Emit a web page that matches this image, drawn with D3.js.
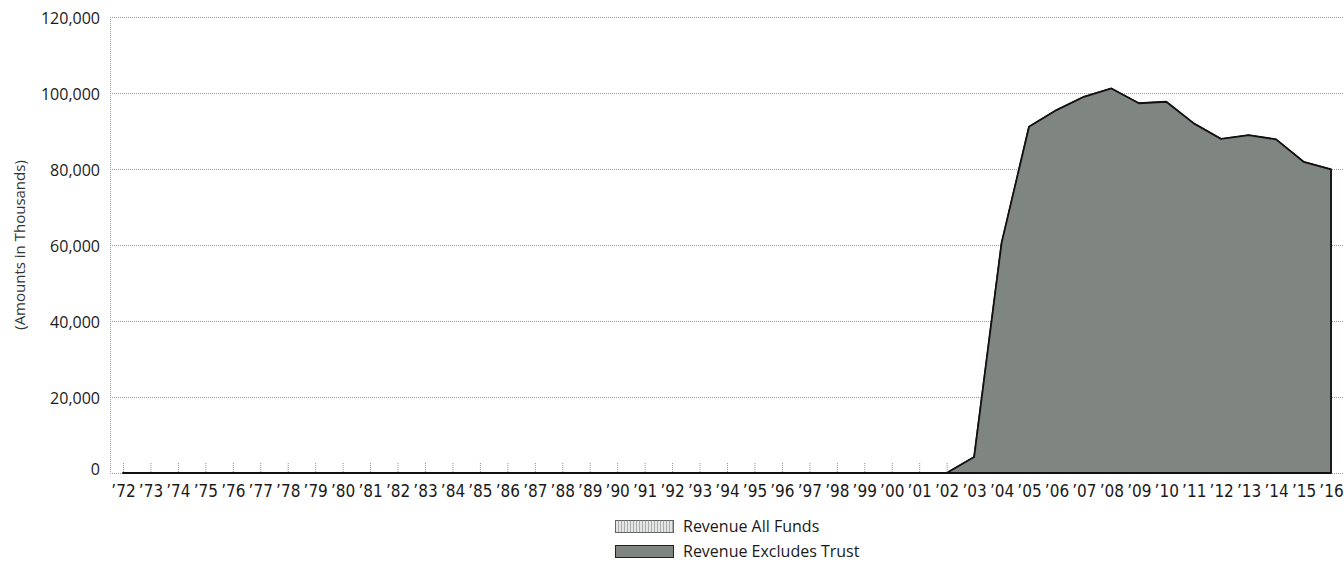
<!DOCTYPE html>
<html>
<head>
<meta charset="utf-8">
<script src="https://cdn.jsdelivr.net/npm/d3@7"></script>
<style>
  html, body { margin: 0; padding: 0; background: #fff; }
  svg { display: block; }
</style>
</head>
<body>
<svg id="chart" width="1344" height="562"></svg>
<script>
'use strict';

// ── Data ──────────────────────────────────────────────────────────────────
const years = d3.range(1972, 2017);
const yTicks = [0, 20000, 40000, 60000, 80000, 100000, 120000];

// amounts in thousands, zero until 2002
const revenueExclTrust = [
  0, 0, 0, 0, 0, 0, 0, 0, 0, 0,        // '72–'81
  0, 0, 0, 0, 0, 0, 0, 0, 0, 0,        // '82–'91
  0, 0, 0, 0, 0, 0, 0, 0, 0, 0,        // '92–'01
  0, 4200, 60500, 91100, 95500, 99000, 101200, 97300, 97700, 92000,  // '02–'11
  87900, 88900, 87800, 81900, 79900    // '12–'16
];
// all-funds series sits exactly under the trust-excluded one
const revenueAllFunds = [
  0, 0, 0, 0, 0, 0, 0, 0, 0, 0,
  0, 0, 0, 0, 0, 0, 0, 0, 0, 0,
  0, 0, 0, 0, 0, 0, 0, 0, 0, 0,
  0, 4200, 60500, 91100, 95500, 99000, 101200, 97300, 97700, 92000,
  87900, 88900, 87800, 81900, 79900
];

const legendItems = ['Revenue All Funds', 'Revenue Excludes Trust'];

// ── Layout ────────────────────────────────────────────────────────────────
const W = 1344;
const PLOT_LEFT = 110;
const Y0 = 473, Y_TOP = 17;

const svg = d3.select('#chart');

const x = d3.scaleLinear().domain([1972, 2016]).range([123, 1331]);
const y = d3.scaleLinear().domain([0, 120000]).range([Y0, Y_TOP]);

// patterns
const defs = svg.append('defs');
const stripe = defs.append('pattern')
  .attr('id', 'stripe').attr('patternUnits', 'userSpaceOnUse')
  .attr('width', 3).attr('height', 3);
stripe.append('rect').attr('width', 3).attr('height', 3).attr('fill', '#e4e6e5');
stripe.append('rect').attr('width', 1).attr('height', 3).attr('fill', '#a9adab');

const FILL = '#7f8581';

// ── Grid ──────────────────────────────────────────────────────────────────
svg.append('g').selectAll('line')
  .data(yTicks)
  .join('line')
  .attr('x1', PLOT_LEFT).attr('x2', W)
  .attr('y1', d => y(d) + 0.5).attr('y2', d => y(d) + 0.5)
  .attr('stroke', '#9a9d9b')
  .attr('stroke-width', 1)
  .attr('stroke-dasharray', '1,1');

// left axis line
svg.append('line')
  .attr('x1', PLOT_LEFT + 0.5).attr('x2', PLOT_LEFT + 0.5)
  .attr('y1', y(120000)).attr('y2', Y0)
  .attr('stroke', '#a4a7a5')
  .attr('stroke-dasharray', '1,1');

// y tick labels
const yAxis = d3.axisLeft(y)
  .tickValues(yTicks)
  .tickSize(0)
  .tickPadding(10)
  .tickFormat(d3.format(','));

svg.append('g')
  .attr('transform', `translate(${PLOT_LEFT}, 0)`)
  .call(yAxis)
  .call(ax => ax.select('.domain').remove())
  .call(ax => ax.selectAll('text')
    .attr('font-family', '"Open Sans", sans-serif')
    .attr('font-size', '16px')
    .attr('fill', '#1a1a1a')
    .attr('dy', d => d === 0 ? '0.1em' : '0.42em'));

// y title
svg.append('text')
  .attr('transform', `translate(25, ${(Y0 + Y_TOP) / 2}) rotate(-90)`)
  .attr('text-anchor', 'middle')
  .attr('font-family', '"Open Sans", sans-serif')
  .attr('font-size', '15px')
  .attr('fill', '#333')
  .text('(Amounts in Thousands)');

// ── Areas ─────────────────────────────────────────────────────────────────
const area = d3.area()
  .x((d, i) => x(years[i]))
  .y0(y(0))
  .y1(d => y(d));

svg.append('path')
  .datum(revenueAllFunds)
  .attr('d', area)
  .attr('fill', 'url(#stripe)')
  .attr('stroke', '#222')
  .attr('stroke-width', 1.5);

svg.append('path')
  .datum(revenueExclTrust)
  .attr('d', area)
  .attr('fill', FILL)
  .attr('stroke', '#111')
  .attr('stroke-width', 1.8)
  .attr('stroke-linejoin', 'round');

// ── X axis ────────────────────────────────────────────────────────────────
const xAxis = d3.axisBottom(x)
  .tickValues(years)
  .tickSize(0)
  .tickPadding(12)
  .tickFormat(d => '\u2019' + String(d).slice(2));

svg.append('g')
  .attr('transform', `translate(0, ${Y0})`)
  .call(xAxis)
  .call(ax => ax.select('.domain').remove())
  .call(ax => ax.selectAll('text')
    .attr('font-family', '"Liberation Sans Narrow", "DejaVu Sans Condensed", sans-serif')
    .attr('font-size', '17px')
    .attr('fill', '#1a1a1a'));

// small dotted year ticks above baseline
svg.append('g').selectAll('line')
  .data(years.filter((d, i) => revenueExclTrust[i] === 0 || d === 2002))
  .join('line')
  .attr('x1', d => x(d) + 0.5).attr('x2', d => x(d) + 0.5)
  .attr('y1', Y0 - 10).attr('y2', Y0 - 1)
  .attr('stroke', '#8d908e')
  .attr('stroke-dasharray', '1,1');

// ── Legend ────────────────────────────────────────────────────────────────
const legend = svg.append('g').attr('transform', 'translate(615, 520)');
legendItems.forEach((name, i) => {
  const row = legend.append('g').attr('transform', `translate(0, ${i * 25})`);
  row.append('rect')
    .attr('x', 0.5).attr('y', 0.5)
    .attr('width', 58).attr('height', 12)
    .attr('fill', i === 0 ? 'url(#stripe)' : FILL)
    .attr('stroke', i === 0 ? '#666' : '#222')
    .attr('stroke-width', 1);
  row.append('text')
    .attr('x', 68).attr('y', 12)
    .attr('font-family', '"Open Sans", sans-serif')
    .attr('font-size', '16px')
    .attr('fill', '#1a1a1a')
    .text(name);
});
</script>
</body>
</html>
